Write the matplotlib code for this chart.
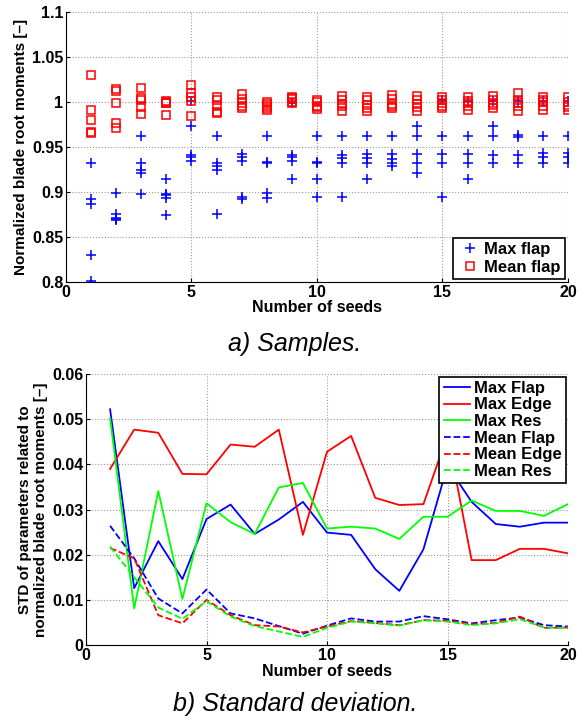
import matplotlib
matplotlib.use("Agg")
import matplotlib.pyplot as plt
import numpy as np

plt.rcParams["font.family"] = ["Liberation Sans", "DejaVu Sans"]
plt.rcParams["font.weight"] = "bold"

seeds = np.arange(1, 21)

# Normalized blade root moments, five realisations per number of seeds
max_flap = [
    [0.932, 0.892, 0.887, 0.830, 0.801],
    [0.899, 0.876, 0.871, 0.870, 0.869],
    [0.962, 0.932, 0.925, 0.921, 0.898],
    [0.915, 0.898, 0.897, 0.893, 0.874],
    [1.001, 0.973, 0.941, 0.939, 0.934],
    [0.962, 0.932, 0.929, 0.924, 0.876],
    [0.942, 0.939, 0.934, 0.894, 0.892],
    [0.962, 0.933, 0.932, 0.899, 0.893],
    [0.999, 0.941, 0.939, 0.934, 0.915],
    [0.962, 0.933, 0.932, 0.915, 0.894],
    [0.962, 0.941, 0.938, 0.932, 0.894],
    [0.962, 0.942, 0.938, 0.932, 0.915],
    [0.962, 0.942, 0.937, 0.932, 0.929],
    [0.973, 0.962, 0.942, 0.932, 0.921],
    [1.002, 0.962, 0.942, 0.932, 0.894],
    [1.001, 0.962, 0.942, 0.932, 0.915],
    [1.001, 0.973, 0.962, 0.941, 0.932],
    [1.001, 0.963, 0.961, 0.941, 0.932],
    [1.001, 0.962, 0.943, 0.939, 0.932],
    [1.001, 0.962, 0.943, 0.939, 0.932],
]
mean_flap = [
    [1.030, 0.991, 0.980, 0.967, 0.965],
    [1.014, 1.012, 0.999, 0.977, 0.971],
    [1.015, 1.004, 1.002, 0.994, 0.987],
    [1.001, 1.000, 0.999, 0.999, 0.985],
    [1.019, 1.010, 1.005, 1.001, 0.984],
    [1.006, 1.002, 0.995, 0.989, 0.988],
    [1.009, 1.003, 0.999, 0.995, 0.993],
    [1.000, 0.998, 0.996, 0.993, 0.991],
    [1.006, 1.004, 1.003, 1.000, 0.999],
    [1.002, 1.000, 0.996, 0.994, 0.992],
    [1.007, 1.002, 0.998, 0.995, 0.990],
    [1.006, 1.002, 0.997, 0.993, 0.990],
    [1.008, 1.003, 0.998, 0.993, 0.996],
    [1.007, 1.002, 0.998, 0.994, 0.990],
    [1.006, 1.002, 0.996, 0.993, 0.999],
    [1.005, 1.001, 0.996, 0.991, 0.999],
    [1.007, 1.002, 0.997, 0.993, 0.999],
    [1.010, 1.002, 0.996, 0.990, 0.999],
    [1.005, 1.000, 0.995, 0.991, 1.002],
    [1.005, 1.000, 0.994, 0.991, 0.997],
]

# Standard deviation of the normalized moments
std_max_flap = [0.0522, 0.0126, 0.0230, 0.0146, 0.0279, 0.0311, 0.0246, 0.0278, 0.0317, 0.0249,
                0.0244, 0.0168, 0.0120, 0.0212, 0.0397, 0.0317, 0.0268, 0.0262, 0.0271, 0.0271]
std_max_edge = [0.0390, 0.0477, 0.0470, 0.0379, 0.0378, 0.0444, 0.0439, 0.0477, 0.0244, 0.0428,
                0.0463, 0.0326, 0.0310, 0.0312, 0.0465, 0.0188, 0.0188, 0.0213, 0.0213, 0.0203]
std_max_res = [0.0502, 0.0081, 0.0341, 0.0102, 0.0314, 0.0272, 0.0246, 0.0349, 0.0359, 0.0258,
               0.0262, 0.0258, 0.0235, 0.0284, 0.0284, 0.0320, 0.0297, 0.0297, 0.0286, 0.0312]
std_mean_flap = [0.0264, 0.0192, 0.0103, 0.0070, 0.0123, 0.0070, 0.0059, 0.0042, 0.0025, 0.0043,
                 0.0059, 0.0052, 0.0052, 0.0064, 0.0057, 0.0048, 0.0055, 0.0061, 0.0044, 0.0041]
std_mean_edge = [0.0215, 0.0192, 0.0066, 0.0048, 0.0100, 0.0066, 0.0044, 0.0041, 0.0028, 0.0041,
                 0.0053, 0.0049, 0.0044, 0.0055, 0.0054, 0.0046, 0.0049, 0.0063, 0.0038, 0.0039]
std_mean_res = [0.0218, 0.0150, 0.0083, 0.0058, 0.0097, 0.0063, 0.0042, 0.0030, 0.0018, 0.0038,
                0.0052, 0.0048, 0.0043, 0.0055, 0.0052, 0.0044, 0.0048, 0.0057, 0.0039, 0.0037]

BLUE, RED, GREEN = "#0000ff", "#ff0000", "#00ff00"
FS = 11.5      # ticks and x labels
FS_Y = 11      # y labels
FS_LEG = 12
FS_CAP = 18


def style_axes(ax):
    ax.spines["top"].set_visible(False)
    ax.spines["right"].set_visible(False)
    ax.grid(True, linestyle=":", color="#999999", linewidth=0.8)
    ax.set_axisbelow(True)
    ax.tick_params(direction="in", length=3, labelsize=FS, pad=2)
    for lab in ax.get_xticklabels() + ax.get_yticklabels():
        lab.set_fontweight("bold")


def style_legend(leg):
    leg.get_frame().set_linewidth(1.2)
    for t in leg.get_texts():
        t.set_fontweight("bold")


fig = plt.figure(figsize=(5.85, 7.22), dpi=100)

# a) samples
ax1 = fig.add_axes([0.1128, 0.6094, 0.8581, 0.374])
x_rep = np.repeat(seeds, 5)
ax1.plot(x_rep, np.ravel(max_flap), "+", color=BLUE, ms=7, mew=1.1, label="Max flap")
ax1.plot(x_rep, np.ravel(mean_flap), "s", mfc="none", mec=RED, ms=6, mew=1.1, label="Mean flap")
ax1.set_xlim(0, 20)
ax1.set_ylim(0.8, 1.1)
ax1.set_xticks([0, 5, 10, 15, 20])
ax1.set_yticks([0.8, 0.85, 0.9, 0.95, 1.0, 1.05, 1.1])
ax1.set_yticklabels(["0.8", "0.85", "0.9", "0.95", "1", "1.05", "1.1"])
style_axes(ax1)
ax1.set_xlabel("Number of seeds", fontsize=FS, fontweight="bold", labelpad=0)
ax1.set_ylabel("Normalized blade root moments [\u2013]", fontsize=FS_Y, fontweight="bold", labelpad=3)
leg1 = ax1.legend(loc="lower right", fontsize=FS_LEG, frameon=True, fancybox=False,
                  edgecolor="black", borderaxespad=0.2, handletextpad=0.1, borderpad=0.25,
                  labelspacing=0.15, handlelength=1.5, framealpha=1)
style_legend(leg1)
fig.text(0.504, 0.5235, "a) Samples.", fontsize=FS_CAP, fontstyle="italic", fontweight="normal",
         ha="center", va="center")

# b) standard deviation
ax2 = fig.add_axes([0.147, 0.1066, 0.824, 0.3753])
ax2.plot(seeds, std_max_flap, "-", color=BLUE, lw=1.3, label="Max Flap")
ax2.plot(seeds, std_max_edge, "-", color=RED, lw=1.3, label="Max Edge")
ax2.plot(seeds, std_max_res, "-", color=GREEN, lw=1.3, label="Max Res")
ax2.plot(seeds, std_mean_flap, "--", color=BLUE, lw=1.3, label="Mean Flap")
ax2.plot(seeds, std_mean_edge, "--", color=RED, lw=1.3, label="Mean Edge")
ax2.plot(seeds, std_mean_res, "--", color=GREEN, lw=1.3, label="Mean Res")
ax2.set_xlim(0, 20)
ax2.set_ylim(0, 0.06)
ax2.set_xticks([0, 5, 10, 15, 20])
ax2.set_yticks([0, 0.01, 0.02, 0.03, 0.04, 0.05, 0.06])
ax2.set_yticklabels(["0", "0.01", "0.02", "0.03", "0.04", "0.05", "0.06"])
style_axes(ax2)
ax2.set_xlabel("Number of seeds", fontsize=FS, fontweight="bold", labelpad=1)
ax2.set_ylabel("STD of parameters related to\nnormalized blade root moments [\u2013]",
               fontsize=FS_Y, fontweight="bold", labelpad=3, linespacing=1.15)
leg2 = ax2.legend(loc="upper right", fontsize=FS_LEG, frameon=True, fancybox=False,
                  edgecolor="black", borderaxespad=0.15, handletextpad=0.2, borderpad=0.25,
                  labelspacing=0.1, handlelength=1.6, framealpha=1)
style_legend(leg2)
fig.text(0.504, 0.025, "b) Standard deviation.", fontsize=FS_CAP, fontstyle="italic",
         fontweight="normal", ha="center", va="center")

fig.savefig("out.png", dpi=100)
